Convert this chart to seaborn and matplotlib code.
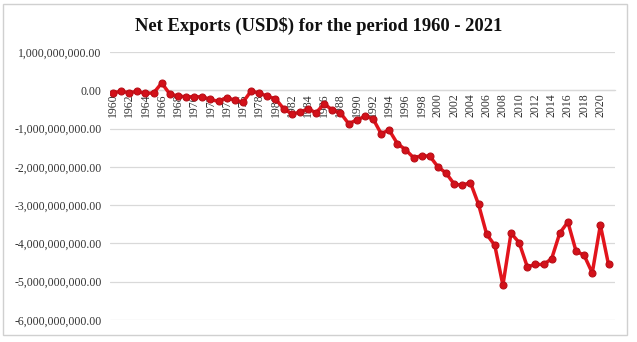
import numpy as np
import pandas as pd
import matplotlib
matplotlib.use("Agg")
import matplotlib.pyplot as plt
import seaborn as sns
from matplotlib.ticker import FuncFormatter
from matplotlib.patches import Rectangle

years = list(range(1960, 2022))
net_exports_bn = [
    -0.06, -0.03, -0.06, -0.03, -0.08, -0.07, 0.19, -0.10, -0.15, -0.17,
    -0.17, -0.17, -0.24, -0.29, -0.19, -0.26, -0.31, -0.02, -0.07, -0.16,
    -0.22, -0.48, -0.61, -0.58, -0.48, -0.59, -0.35, -0.52, -0.59, -0.87,
    -0.78, -0.68, -0.74, -1.13, -1.04, -1.39, -1.55, -1.76, -1.71, -1.72,
    -2.00, -2.16, -2.45, -2.48, -2.41, -2.98, -3.76, -4.05, -5.09, -3.73,
    -3.98, -4.61, -4.55, -4.55, -4.40, -3.73, -3.44, -4.20, -4.31, -4.77,
    -3.52, -4.55,
]
net_exports = [v * 1e9 for v in net_exports_bn]
y_ticks = [1e9, 0, -1e9, -2e9, -3e9, -4e9, -5e9, -6e9]
x_ticks = list(range(1960, 2021, 2))
title = "Net Exports (USD$) for the period 1960 - 2021"

df = pd.DataFrame({"Year": years, "NetExports": net_exports})

sns.set_theme(style="white")
plt.rcParams["font.family"] = ["Liberation Serif", "DejaVu Serif"]

W, H = 637, 342
fig = plt.figure(figsize=(W / 100, H / 100), dpi=100)
ax = fig.add_axes([110 / W, (H - 320) / H, 505 / W, 268 / H])

for s in ["top", "right", "left"]:
    ax.spines[s].set_visible(False)
ax.spines["bottom"].set_position(("data", 0))
ax.spines["bottom"].set_color("#D9D9D9")
ax.spines["bottom"].set_linewidth(0.9)
ax.spines["bottom"].set_zorder(1)

sns.lineplot(data=df, x="Year", y="NetExports", ax=ax, color="#E2141C",
             linewidth=2.5, marker="o", markersize=5,
             markerfacecolor="#D3111A", markeredgecolor="#B80E17",
             markeredgewidth=0.8, zorder=3)

ax.set_ylim(-6e9, 1e9)
ax.set_xlim(1959.63, 2021.8)
ax.set_yticks(y_ticks)
ax.yaxis.set_major_formatter(FuncFormatter(lambda v, p: f"{v:,.2f}"))
ax.set_xticks(x_ticks)
ax.set_xticklabels([str(y) for y in x_ticks])
ax.grid(axis="y", color="#D9D9D9", linewidth=0.9)
ax.grid(axis="x", visible=False)
ax.tick_params(axis="x", length=0, pad=2, labelsize=8.5, colors="#333333",
               labelrotation=90)
ax.tick_params(axis="y", length=0, pad=6, labelsize=8.5, colors="#333333")
ax.set_xlabel("")
ax.set_ylabel("")

fig.text(0.5, 1 - 26 / H, title, ha="center", va="center",
         fontsize=13.4, fontweight="bold", color="#111111")

fig.patches.append(Rectangle((3 / W, 7 / H), 624 / W, 331 / H,
                             transform=fig.transFigure, fill=False,
                             edgecolor="#D0D0D0", linewidth=1.0))

fig.savefig("out.png", dpi=100, facecolor="white")
